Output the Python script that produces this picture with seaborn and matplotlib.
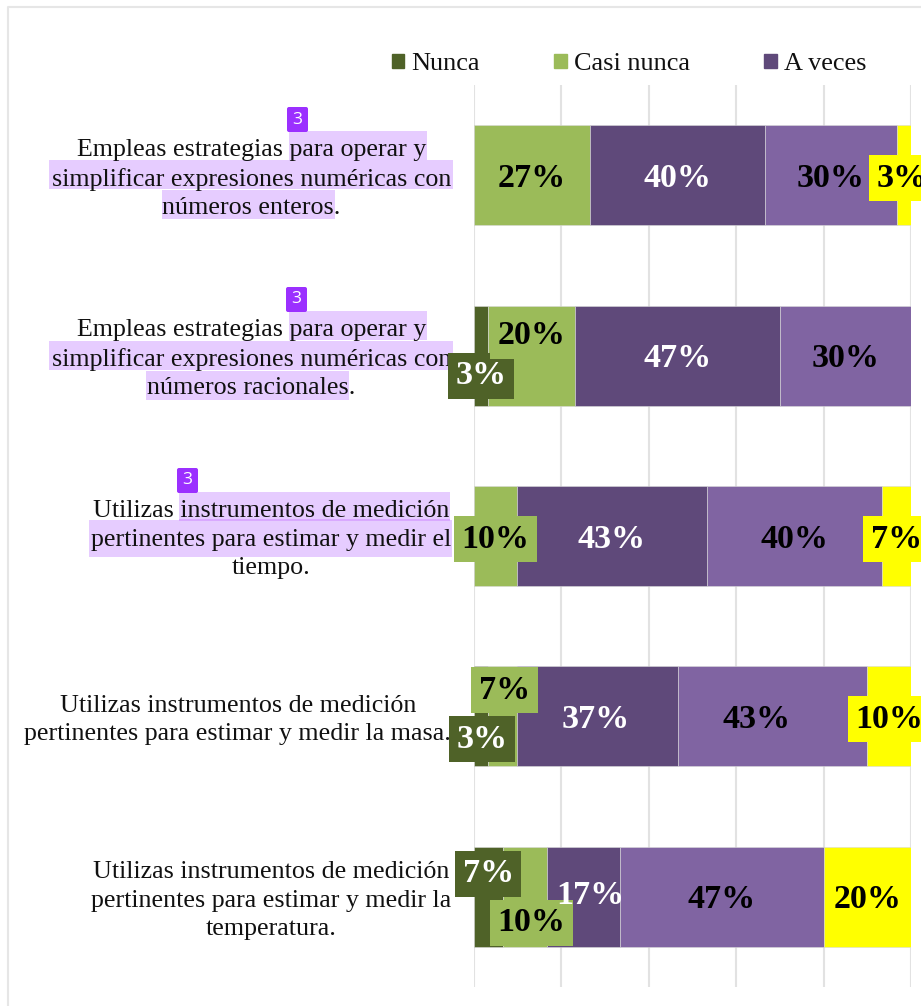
#!/usr/bin/env python3
import numpy as np
import matplotlib
matplotlib.use('Agg')
import matplotlib.pyplot as plt
from matplotlib.patches import Patch, Rectangle, FancyBboxPatch
from matplotlib.transforms import Affine2D
import seaborn as sns

W, H = 921, 1006

preguntas = [
    'Empleas estrategias para operar y\nsimplificar expresiones numéricas con\nnúmeros enteros.',
    'Empleas estrategias para operar y\nsimplificar expresiones numéricas con\nnúmeros racionales.',
    'Utilizas instrumentos de medición\npertinentes para estimar y medir el\ntiempo.',
    'Utilizas instrumentos de medición\npertinentes para estimar y medir la masa.',
    'Utilizas instrumentos de medición\npertinentes para estimar y medir la\ntemperatura.',
]

# porcentajes por respuesta
nunca = [0, 3.3, 0, 3.3, 6.7]
casi_nunca = [26.7, 20, 10, 6.7, 10]
a_veces = [40, 46.7, 43.3, 36.7, 16.7]
casi_siempre = [30, 30, 40, 43.3, 46.7]
siempre = [3.3, 0, 6.7, 10, 20]

series = [nunca, casi_nunca, a_veces, casi_siempre, siempre]
legend_names = ['Nunca', 'Casi nunca', 'A veces']
colors = ['#4F6228', '#9BBB59', '#5F497A', '#8064A2', '#FFFF00']
label_colors = ['white', 'black', 'white', 'black', 'black']

# etiquetas movidas a mano en el original (serie, fila): dx, dy en pixeles
label_shift = {
    (0, 1): (0, -17), (0, 3): (1, -20), (0, 4): (0, 26),
    (1, 1): (0, 23), (1, 3): (2, 29), (1, 4): (7, -23),
    (2, 3): (-2, 0), (2, 4): (7, 4),
    (3, 3): (-16, 0),
    (4, 0): (-2, 0),
}
# etiquetas con caja de relleno
boxed = [(0, 1), (0, 3), (0, 4), (1, 1), (1, 2), (1, 3), (1, 4), (4, 0), (4, 2), (4, 3)]

# resaltado del texto: x0, x1, y0, y1 en pixeles
highlights = [
    (289, 427, 131, 160), (49, 453, 160, 189), (162, 335, 190, 219),
    (289, 427, 311, 340), (49, 453, 341, 370), (146, 349, 371, 400),
    (179, 450, 492, 520), (89, 452, 520, 557),
]
badges = [(287, 107), (286, 287), (177, 468)]

sns.set_theme(style='whitegrid')
plt.rcParams['font.family'] = ['Liberation Serif', 'DejaVu Serif']


def fx(px):
    return px / W


def fy(py):
    return 1 - py / H


fig = plt.figure(figsize=(W / 100, H / 100), dpi=100)
ax = fig.add_axes([fx(473.5), fy(987), (911 - 473.5) / W, (987 - 85) / H])

left = np.zeros(len(preguntas))
for vals, color in zip(series, colors):
    sns.barplot(x=vals, y=preguntas, left=left, color=color, saturation=1, width=0.554,
                orient='h', edgecolor='#d9d9d9', linewidth=0.4, ax=ax)
    left = left + np.array(vals)

ax.set_xlim(0, 100)
ax.set_xticks(range(0, 101, 20))
ax.set_axisbelow(True)
ax.grid(axis='x', color='#e2e2e2', linewidth=1.5)
ax.grid(axis='y', visible=False)
ax.tick_params(axis='x', labelbottom=False, length=0)
ax.tick_params(axis='y', length=0, pad=16)
ax.set_xlabel('')
ax.set_ylabel('')
for s in ax.spines.values():
    s.set_visible(False)
for lab in ax.get_yticklabels():
    lab.set_fontsize(18.75)
    lab.set_color('#111111')
    lab.set_multialignment('center')
    lab.set_linespacing(1.38)
    lab.set_transform(lab.get_transform() + Affine2D().translate(0, 2))

# etiquetas de datos
start = np.zeros(len(preguntas))
for i, vals in enumerate(series):
    for j, v in enumerate(vals):
        if v == 0:
            continue
        dx, dy = label_shift.get((i, j), (0, 0))
        kw = {}
        if (i, j) in boxed:
            kw['bbox'] = dict(boxstyle='square,pad=0.22', fc=colors[i], ec='none')
        ax.annotate(f'{v:.0f}%', xy=(start[j] + v / 2, j), xytext=(dx, dy - 3),
                    textcoords='offset pixels', ha='center', va='center',
                    fontsize=24.5, fontweight='bold', color=label_colors[i],
                    annotation_clip=False, **kw)
    start = start + np.array(vals)

handles = [Patch(color=c, label=n) for c, n in zip(colors, legend_names)]
fig.legend(handles=handles, loc='center left', bbox_to_anchor=(fx(392), fy(64)), ncol=3,
           frameon=False, fontsize=18.9, handlelength=0.46, handleheight=0.46,
           handletextpad=0.27, columnspacing=2.85, borderpad=0, borderaxespad=0,
           labelcolor='#111111')

# resaltados y marcas de comentario
for x0, x1, y0, y1 in highlights:
    fig.add_artist(Rectangle((fx(x0), fy(y1)), (x1 - x0) / W, (y1 - y0) / H,
                             transform=fig.transFigure, fc='#E6CCFF', ec='none', zorder=-1))
fig.add_artist(Rectangle((fx(179), fy(521)), (450 - 179) / W, 2 / H, transform=fig.transFigure,
                         fc='#D9A9FF', ec='none', zorder=-1))
for bx, by in badges:
    # transform=None: coordenadas en pixeles, y desde abajo
    fig.add_artist(FancyBboxPatch((bx + 2, H - by - 23), 17, 21, boxstyle='round,pad=2',
                                  transform=None, fc='#9B30FF', ec='none', zorder=3))
    fig.text(fx(bx + 10.5), fy(by + 12.5), '3', color='white', fontsize=12.5, ha='center',
             va='center', family=['Open Sans', 'DejaVu Sans'], zorder=4)

# borde de la hoja
fig.add_artist(plt.Line2D([fx(8), fx(8), 1], [0, fy(7), fy(7)], color='#e6e6e6', lw=1.5,
                          transform=fig.transFigure, zorder=-1))

plt.savefig('out.png', dpi=100)
plt.close()
